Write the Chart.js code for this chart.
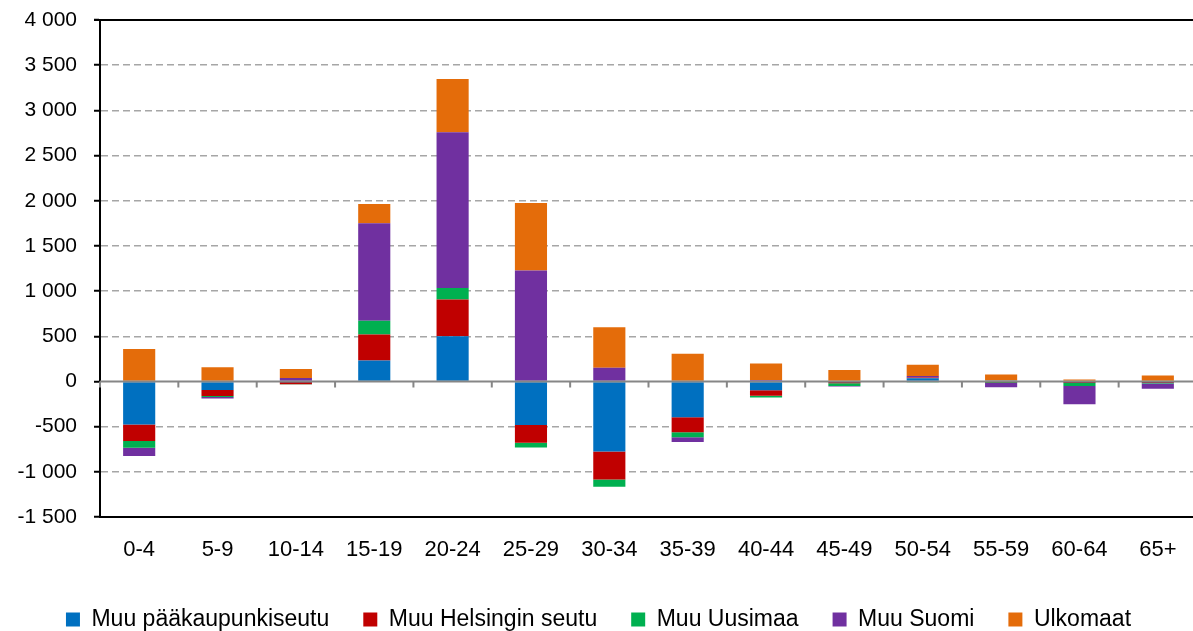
<!DOCTYPE html>
<html>
<head>
<meta charset="utf-8">
<script src="https://cdn.jsdelivr.net/npm/chart.js@4/dist/chart.umd.min.js"></script>
<style>
    html, body { margin: 0; padding: 0; background: #fff; overflow: hidden; }
    #chart-container { width: 1200px; height: 631px; }
</style>
</head>
<body>
<div id="chart-container"><canvas id="migrationChart" width="1200" height="631"></canvas></div>
<script>
// data
let ageGroups = ['0-4', '5-9', '10-14', '15-19', '20-24', '25-29', '30-34', '35-39', '40-44', '45-49', '50-54', '55-59', '60-64', '65+']

let seriesNames = ['Muu pääkaupunkiseutu', 'Muu Helsingin seutu', 'Muu Uusimaa', 'Muu Suomi', 'Ulkomaat']
let seriesColors = ['#0070C0', '#C00000', '#00B050', '#7030A0', '#E46C0A']

let paakaupunkiseutu = [-475, -94, -5, 231, 501, -482, -776, -395, -96, -5, 35, 10, -5, -5]
let helsinginSeutu = [-185, -67, -25, 288, 406, -196, -309, -166, -63, -15, 10, -3, -12, -12]
let uusimaa = [-74, -12, -3, 152, 126, -52, -79, -56, -18, -30, -12, -15, -33, -5]
let muuSuomi = [-92, -15, 39, 1079, 1726, 1229, 153, -52, 15, -5, 15, -45, -203, -60]
let ulkomaat = [360, 158, 100, 215, 588, 747, 448, 307, 185, 126, 125, 68, 22, 66]

let yMin = -1500, yMax = 4000, yStep = 500

let seriesValues = [paakaupunkiseutu, helsinginSeutu, uusimaa, muuSuomi, ulkomaat]

let fontFamily = 'Liberation Sans, Arial, sans-serif'

// formats 3500 -> "3 500", -1000 -> "-1 000"
function formatThousands(value)
{
    let sign = value < 0 ? '-' : ''
    let s = String(Math.abs(value))
    if (s.length > 3)
        s = s.slice(0, s.length - 3) + ' ' + s.slice(s.length - 3)
    return sign + s
}

// zero line with category ticks, plus solid top line
let frameLines = {
    id: 'frameLines',
    afterDatasetsDraw(chart)
    {
        let ctx = chart.ctx
        let area = chart.chartArea
        let xScale = chart.scales.x
        let yScale = chart.scales.y

        ctx.save()
        let y0 = yScale.getPixelForValue(0)
        ctx.strokeStyle = '#868686'
        ctx.lineWidth = 2
        ctx.beginPath()
        ctx.moveTo(area.left, y0)
        ctx.lineTo(area.right, y0)
        let step = xScale.getPixelForValue(1) - xScale.getPixelForValue(0)
        for (let i = 0; i <= ageGroups.length; i++)
        {
            let xb = xScale.getPixelForValue(0) - step / 2 + i * step
            ctx.moveTo(xb, y0)
            ctx.lineTo(xb, y0 + 6)
        }
        ctx.stroke()

        let yTop = yScale.getPixelForValue(yMax)
        ctx.strokeStyle = '#000'
        ctx.beginPath()
        ctx.moveTo(area.left - 6, yTop)
        ctx.lineTo(area.right, yTop)
        ctx.stroke()
        ctx.restore()
    }
}

let datasets = []
for (let i = 0; i < seriesNames.length; i++)
{
    datasets.push({
        label: seriesNames[i],
        data: seriesValues[i],
        backgroundColor: seriesColors[i],
        borderWidth: 0,
        categoryPercentage: 1,
        barPercentage: 0.41
    })
}

let ctxMigration = document.getElementById('migrationChart').getContext('2d')
let migrationChart = new Chart(ctxMigration, {
    type: 'bar',
    data: {
        labels: ageGroups,
        datasets: datasets
    },
    options: {
        responsive: false,
        animation: false,
        devicePixelRatio: 1,
        layout: {
            padding: { top: 20, right: 3, bottom: -10, left: 0 }
        },
        plugins: {
            tooltip: { enabled: false },
            legend: {
                position: 'bottom',
                labels: {
                    color: '#000',
                    font: { family: fontFamily, size: 23 },
                    boxWidth: 14,
                    boxHeight: 14,
                    padding: 34
                }
            }
        },
        scales: {
            x: {
                stacked: true,
                afterFit(scale)
                {
                    scale.height = 57
                },
                grid: { display: false },
                border: { display: true, color: '#000', width: 2 },
                ticks: {
                    color: '#000',
                    font: { family: fontFamily, size: 22 },
                    padding: 12,
                    maxRotation: 0,
                    autoSkip: false
                }
            },
            y: {
                stacked: true,
                min: yMin,
                max: yMax,
                afterFit(scale)
                {
                    scale.width = 100
                    scale.paddingTop = 0
                    scale.paddingBottom = 0
                },
                ticks: {
                    stepSize: yStep,
                    color: '#000',
                    font: { family: fontFamily, size: 21 },
                    padding: 17,
                    callback: (value) => formatThousands(value)
                },
                grid: {
                    color: (c) => (c.tick && (c.tick.value == 0 || c.tick.value == yMax || c.tick.value == yMin)) ? 'rgba(0,0,0,0)' : '#a6a6a6',
                    lineWidth: 1.5,
                    tickColor: '#000',
                    tickLength: 6,
                    tickWidth: 2
                },
                border: { display: true, color: '#000', width: 2, dash: [7, 4] }
            }
        }
    },
    plugins: [frameLines]
})
</script>
</body>
</html>
